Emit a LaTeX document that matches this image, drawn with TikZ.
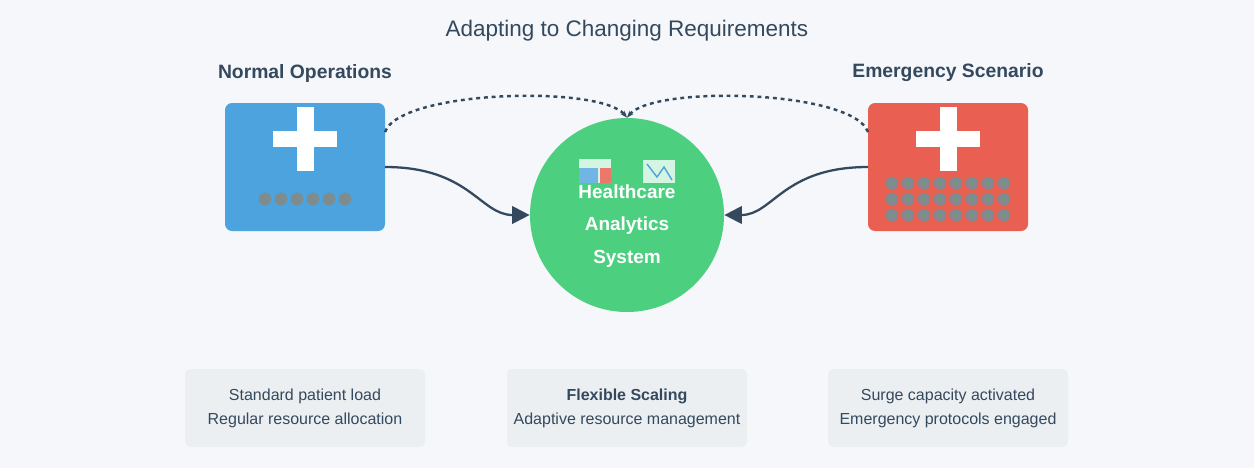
\documentclass[tikz,border=0pt]{standalone}
\usepackage{fontspec}
\setmainfont{Liberation Sans}
\usetikzlibrary{arrows.meta}
\definecolor{bgcol}{HTML}{F5F7FA}
\definecolor{ink}{HTML}{34495E}
\definecolor{blueunit}{HTML}{4CA3DD}
\definecolor{redunit}{HTML}{E95F51}
\definecolor{greenhub}{HTML}{4CD080}
\definecolor{dotgray}{HTML}{7F8C8D}
\definecolor{notebg}{HTML}{ECEFF1}
\definecolor{iconbg}{HTML}{D5F5E3}
\tikzset{
  unit/.style={rounded corners=4pt, minimum width=160*0.02cm, minimum height=128*0.02cm, inner sep=0},
  note/.style={fill=notebg, rounded corners=3pt, minimum width=240*0.02cm, minimum height=78*0.02cm,
    align=center, font=\fontsize{9.1}{13.5}\selectfont, text=ink},
  head/.style={font=\bfseries\fontsize{11}{13}\selectfont, text=ink},
  flow/.style={ink, line width=1.3pt, -{Triangle[length=10pt,width=10pt]}},
  link/.style={ink, line width=1.4pt, dash pattern=on 2.2pt off 2.2pt, -{Stealth[length=4pt]}},
}
\newcommand{\hcross}[2]{%
  \fill[white] (#1-8.5,#2-32) rectangle (#1+8.5,#2+32);
  \fill[white] (#1-32,#2-8) rectangle (#1+32,#2+8);}
\begin{document}
\begin{tikzpicture}[x=0.02cm,y=-0.02cm]
\fill[bgcol] (0,0) rectangle (1254,468);

\node[font=\fontsize{12.8}{15}\selectfont, text=ink] (title) at (627,31) {Adapting to Changing Requirements};

\node[head] (lhead) at (305,73) {Normal Operations};
\node[head] (rhead) at (948,73) {Emergency Scenario};

% left unit
\node[unit, fill=blueunit] (normal) at (305,167) {};
\hcross{305}{139}
\foreach \i in {0,...,5}
  \fill[dotgray] (265+16*\i,199) circle (6.3);

% right unit
\node[unit, fill=redunit] (emerg) at (948,167) {};
\hcross{948}{139}
\foreach \r in {0,1,2}
  \foreach \i in {0,...,7}
    \fill[dotgray] (892+16*\i,183+16*\r) circle (6.3);

% hub
\node[circle, fill=greenhub, minimum size=194*0.02cm, inner sep=0] (hub) at (627,215) {};
\fill[iconbg] (579,159) rectangle (611,183);
\fill[blueunit!80!white] (579,168) rectangle (598,183);
\fill[redunit!85!white] (600,168) rectangle (611,183);
\fill[iconbg] (643,160) rectangle (675,183);
\draw[blueunit, line width=0.8pt] (647,164) -- (657,177) -- (664,167) -- (672,180);
\node[text=white, font=\bfseries\fontsize{10.8}{18.5}\selectfont, align=center] (hubtext) at (627,226)
  {Healthcare\\Analytics\\System};

% connectors
\coordinate (ltop) at (385,132);
\coordinate (rtop) at (868,132);
\draw[flow] (385,167) .. controls (470,167) and (480,215) .. (hub.west);
\draw[flow] (868,167) .. controls (783,167) and (773,215) .. (hub.east);
\draw[link] (ltop) .. controls (400,90) and (600,85) .. (hub.north);
\draw[link] (rtop) .. controls (853,90) and (654,85) .. (hub.north);

% notes
\node[note] (lnote) at (305,408) {Standard patient load\\Regular resource allocation};
\node[note] (cnote) at (627,408) {\textbf{Flexible Scaling}\\Adaptive resource management};
\node[note] (rnote) at (948,408) {Surge capacity activated\\Emergency protocols engaged};
\end{tikzpicture}
\end{document}
